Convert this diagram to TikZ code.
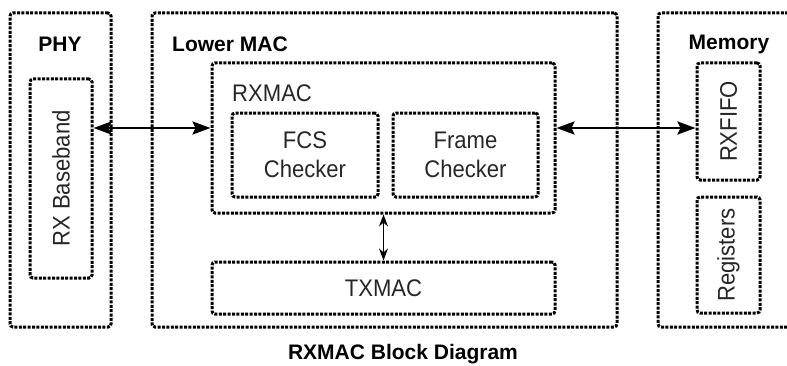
\documentclass[tikz,border=0pt]{standalone}
\usepackage{fontspec}
\setmainfont{Liberation Sans}
\newfontfamily\narrowsans{Liberation Sans}[FakeStretch=0.92]
\usetikzlibrary{arrows.meta,positioning}
\tikzset{>=Stealth}

\begin{document}
\begin{tikzpicture}[x=1pt, y=1pt,
    blk/.style={draw, line width=3pt, dash pattern=on 3pt off 1.4pt,
                rounded corners=3pt, inner sep=0pt, anchor=center,
                font=\narrowsans\fontsize{24}{29}\selectfont, text=black!85, align=center},
    txt/.style={font=\narrowsans\fontsize{24}{29}\selectfont, text=black!85},
    title/.style={font=\fontsize{21}{24}\selectfont\bfseries},
    arr/.style={{Stealth[length=18pt,width=13pt,inset=3pt]}-{Stealth[length=18pt,width=13pt,inset=3pt]}, line width=2.6pt},
    thinarr/.style={{Stealth[length=12pt,width=9pt]}-{Stealth[length=12pt,width=9pt]}, line width=1.2pt}
  ]
    \useasboundingbox (0,0) rectangle (787,365);

    % outer blocks
    \node[blk, minimum width=101pt, minimum height=314pt] (phy)      at (60.5,195) {};
    \node[blk, minimum width=465pt, minimum height=314pt] (lowermac) at (384.5,195) {};
    \node[blk, minimum width=142pt, minimum height=314pt] (memory)   at (729,195) {};

    \node[title] (phylbl) at (60,321) {PHY};
    \node[title, anchor=west, inner sep=0pt] (maclbl) at (172,321) {Lower MAC};
    \node[title] (memlbl) at (729,321) {Memory};

    % inner blocks
    \node[blk, minimum width=62pt, minimum height=199pt] (rxbase) at (61,186.5) {};
    \node[txt, rotate=90] (rxbaselbl) at (rxbase) {RX Baseband};

    \node[blk, minimum width=343pt, minimum height=150pt] (rxmac) at (383.5,227) {};
    \node[txt, anchor=west, inner sep=0pt] (rxmaclbl) at (232,272) {RXMAC};
    \node[blk, minimum width=146pt, minimum height=84pt] (fcs)   at (305,210)   {FCS\\Checker};
    \node[blk, minimum width=145pt, minimum height=84pt] (frame) at (465.5,210) {Frame\\Checker};

    \node[blk, minimum width=343pt, minimum height=52pt] (txmac) at (383.5,77) {TXMAC};

    \node[blk, minimum width=63pt, minimum height=117pt] (rxfifo) at (728.5,243.5) {};
    \node[txt, rotate=90] (rxfifolbl) at (rxfifo) {RXFIFO};
    \node[blk, minimum width=63pt, minimum height=116pt] (regs) at (728.5,110) {};
    \node[txt, rotate=90] (regslbl) at (regs) {Registers};

    % connections
    \coordinate (bus) at (0,237);
    \draw[arr] (rxbase.east |- bus) -- (rxmac.west |- bus);
    \draw[arr] (rxmac.east |- bus) -- (rxfifo.west |- bus);
    \draw[thinarr] (rxmac.south) -- (txmac.north);

    \node[title] (caption) at (403,11) {RXMAC Block Diagram};
  \end{tikzpicture}
\end{document}
